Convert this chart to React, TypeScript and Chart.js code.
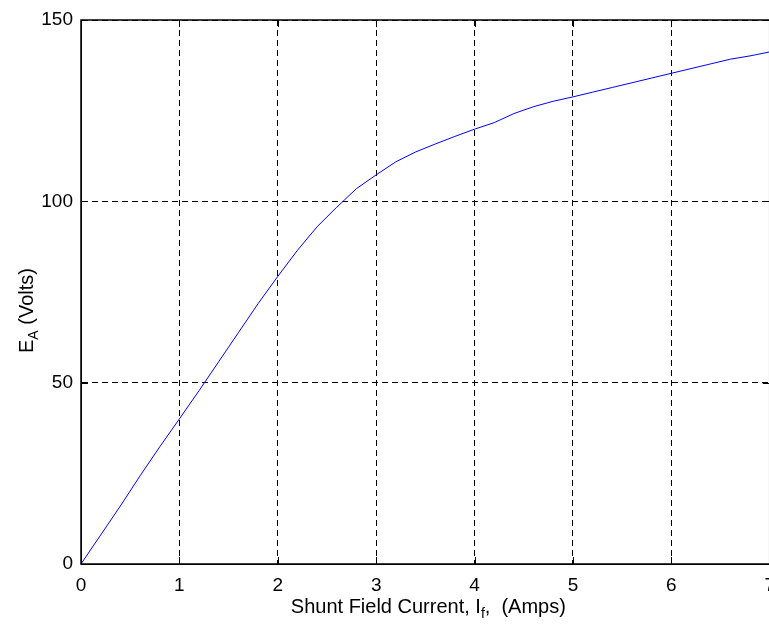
import React, { useEffect, useRef } from "react";
import { Chart, registerables } from "chart.js";

Chart.register(...registerables);

// Shunt field current I_f (Amps)
const fieldCurrent = [
  0, 0.2, 0.4, 0.6, 0.8, 1.0, 1.2, 1.4, 1.6, 1.8, 2.0, 2.2, 2.4, 2.6, 2.8, 3.0,
  3.2, 3.4, 3.6, 3.8, 4.0, 4.2, 4.4, 4.6, 4.8, 5.0, 5.2, 5.4, 5.6, 5.8, 6.0,
  6.2, 6.4, 6.6, 6.8, 7.0,
];
// Internal generated voltage E_A (Volts)
const armatureVoltage = [
  0, 8, 16, 24.3, 32.3, 40, 47.8, 55.8, 63.8, 71.8, 79.3, 86.5, 93, 98.4, 103.5,
  107.3, 110.9, 113.6, 115.8, 117.9, 119.9, 121.7, 124.2, 126.1, 127.6, 128.8,
  130.1, 131.4, 132.7, 134.0, 135.3, 136.6, 137.9, 139.2, 140.1, 141.2,
];
const xTickValues = [0, 1, 2, 3, 4, 5, 6, 7];
const yTickValues = [0, 50, 100, 150];

const FONT = "'Liberation Sans', Arial, Helvetica, sans-serif";

const framePlugin = {
  id: "matlabFrame",
  afterDraw(chart: any) {
    const { ctx, chartArea } = chart;
    const { left, top, right, bottom } = chartArea;
    const xs = chart.scales.x;
    const ys = chart.scales.y;
    ctx.save();
    // inward tick marks
    ctx.strokeStyle = "#000";
    ctx.lineWidth = 1;
    ctx.setLineDash([]);
    ctx.beginPath();
    const tl = 7;
    xTickValues.forEach((v) => {
      const px = Math.round(xs.getPixelForValue(v)) + 0.5;
      ctx.moveTo(px, bottom);
      ctx.lineTo(px, bottom - tl);
      ctx.moveTo(px, top);
      ctx.lineTo(px, top + tl);
    });
    yTickValues.forEach((v) => {
      const py = Math.round(ys.getPixelForValue(v)) + 0.5;
      ctx.moveTo(left, py);
      ctx.lineTo(left + tl, py);
      ctx.moveTo(right, py);
      ctx.lineTo(right - tl, py);
    });
    ctx.stroke();
    // box
    ctx.lineWidth = 1.5;
    ctx.strokeRect(left, top, right - left, bottom - top);

    // x title with subscript
    ctx.fillStyle = "#000";
    ctx.textBaseline = "alphabetic";
    ctx.textAlign = "left";
    const mainFont = `20px ${FONT}`;
    const subFont = `14px ${FONT}`;
    const p1 = "Shunt Field Current, I";
    const ps = "f";
    const p2 = ",  (Amps)";
    ctx.font = mainFont;
    const w1 = ctx.measureText(p1).width;
    const w2 = ctx.measureText(p2).width;
    ctx.font = subFont;
    const ws = ctx.measureText(ps).width;
    const total = w1 + ws + w2;
    const x0 = (left + right) / 2 + 3 - total / 2;
    const by = 613;
    ctx.font = mainFont;
    ctx.fillText(p1, x0, by);
    ctx.font = subFont;
    ctx.fillText(ps, x0 + w1, by + 5);
    ctx.font = mainFont;
    ctx.fillText(p2, x0 + w1 + ws, by);

    // y title with subscript (rotated)
    ctx.translate(33, 353);
    ctx.rotate(-Math.PI / 2);
    const q1 = "E";
    const qs = "A";
    const q2 = " (Volts)";
    ctx.font = mainFont;
    const v1 = ctx.measureText(q1).width;
    ctx.fillText(q1, 0, 0);
    ctx.font = subFont;
    const vs = ctx.measureText(qs).width;
    ctx.fillText(qs, v1, 5);
    ctx.font = mainFont;
    ctx.fillText(q2, v1 + vs, 0);
    ctx.restore();
  },
};

export default function App() {
  const canvasRef = useRef<HTMLCanvasElement | null>(null);

  useEffect(() => {
    const canvas = canvasRef.current;
    if (!canvas) return;
    const points = fieldCurrent.map((x, i) => ({ x, y: armatureVoltage[i] }));
    const chart = new Chart(canvas, {
      type: "line",
      data: {
        datasets: [
          {
            data: points,
            borderColor: "#0000ff",
            borderWidth: 1,
            pointRadius: 0,
            fill: false,
            tension: 0,
          },
        ],
      },
      options: {
        responsive: false,
        animation: false,
        events: [],
        layout: { padding: { left: 0, top: 20, right: 10, bottom: 0 } },
        plugins: {
          legend: { display: false },
          tooltip: { enabled: false },
          title: { display: false },
        },
        scales: {
          x: {
            type: "linear",
            min: 0,
            max: 7,
            afterFit: (s: any) => {
              s.height = 60;
            },
            afterBuildTicks: (s: any) => {
              s.ticks = xTickValues.map((v) => ({ value: v }));
            },
            grid: {
              color: "#000",
              lineWidth: 1,
              drawTicks: false,
            },
            border: { display: true, color: "#000", dash: [6, 4] },
            ticks: {
              color: "#000",
              padding: 10,
              font: { family: FONT, size: 19 },
              maxRotation: 0,
              autoSkip: false,
            },
          },
          y: {
            type: "linear",
            min: 0,
            max: 150,
            afterFit: (s: any) => {
              s.width = 81;
            },
            afterBuildTicks: (s: any) => {
              s.ticks = yTickValues.map((v) => ({ value: v }));
            },
            grid: {
              color: "#000",
              lineWidth: 1,
              drawTicks: false,
            },
            border: { display: true, color: "#000", dash: [6, 4] },
            ticks: {
              color: "#000",
              padding: 8,
              font: { family: FONT, size: 19 },
              autoSkip: false,
            },
          },
        },
      },
      plugins: [framePlugin],
    });
    return () => chart.destroy();
  }, []);

  return (
    <div
      style={{
        position: "absolute",
        left: 0,
        top: 0,
        width: 769,
        height: 624,
        overflow: "hidden",
        background: "#fff",
      }}
    >
      <canvas ref={canvasRef} width={785} height={624} style={{ display: "block" }} />
    </div>
  );
}
